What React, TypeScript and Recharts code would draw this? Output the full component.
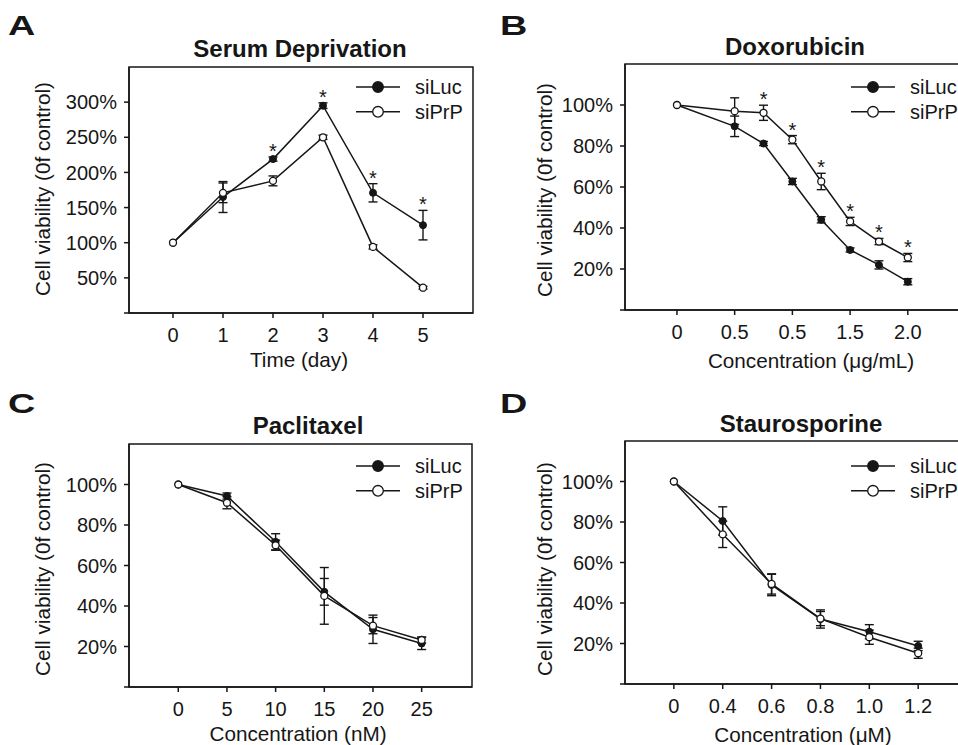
import React from 'react';
import { ComposedChart, Line, Scatter, XAxis, YAxis, ErrorBar, ReferenceArea, Legend } from 'recharts';

const FONT = '"Liberation Sans", Arial, Helvetica, sans-serif';
const INK = '#161616';

// ---------- Panel A: Serum Deprivation ----------
const serumDays = [0, 1, 2, 3, 4, 5];
const serumLuc = [100, 165, 219, 295, 171, 125];
const serumLucErr = [0, 22, 3, 4, 13, 21];
const serumPrp = [100, 171, 188, 250, 94, 36];
const serumPrpErr = [0, 14, 7, 3, 3, 2];
const serumStarsLuc = [false, false, true, true, true, true];
const serumYTicks = [0, 50, 100, 150, 200, 250, 300];
const serumXTicks = [0, 1, 2, 3, 4, 5];
const serumXLabels = ['0', '1', '2', '3', '4', '5'];

// ---------- Panel B: Doxorubicin ----------
const doxoConc = [0, 0.5, 0.75, 1.0, 1.25, 1.5, 1.75, 2.0];
const doxoLuc = [100, 89.6, 81.2, 62.7, 44, 29.3, 22, 13.8];
const doxoLucErr = [0, 5, 1, 1.5, 1.5, 1, 2, 1.5];
const doxoPrp = [100, 97, 96.2, 83.1, 62.7, 43.2, 33.4, 25.6];
const doxoPrpErr = [0, 6.5, 3.7, 2, 4, 2, 1.5, 2];
const doxoStarsPrp = [false, false, true, true, true, true, true, true];
const doxoXTicks = [0, 0.5, 1, 1.5, 2];
const doxoXLabels = ['0', '0.5', '0.5', '1.5', '2.0'];

// ---------- Panel C: Paclitaxel ----------
const pacliConc = [0, 5, 10, 15, 20, 25];
const pacliLuc = [100, 94.3, 71.7, 47, 28.5, 21.5];
const pacliLucErr = [0, 1.5, 4, 6.6, 7, 3];
const pacliPrp = [100, 91, 70, 45, 30.3, 23.2];
const pacliPrpErr = [0, 3, 2.5, 14, 4, 1.5];
const pacliXTicks = [0, 5, 10, 15, 20, 25];
const pacliXLabels = ['0', '5', '10', '15', '20', '25'];

// ---------- Panel D: Staurosporine (evenly spaced categories) ----------
const stauroPos = [0, 1, 2, 3, 4, 5];
const stauroConcLabels = ['0', '0.4', '0.6', '0.8', '1.0', '1.2'];
const stauroLuc = [100, 80.5, 48.9, 32.1, 25.8, 18.8];
const stauroLucErr = [0, 7, 5.3, 4.5, 3.5, 2.3];
const stauroPrp = [100, 73.9, 49.4, 32.3, 23.1, 15.2];
const stauroPrpErr = [0, 6.5, 5, 3.5, 3.5, 2.5];

const pctTicks = [0, 20, 40, 60, 80, 100];

function buildRows(
  xs: number[],
  luc: number[],
  lucErr: number[],
  prp: number[],
  prpErr: number[],
  stars?: boolean[],
  starOn?: 'luc' | 'prp'
) {
  return xs.map((x, i) => ({
    x,
    luc: luc[i],
    lucErr: lucErr[i],
    prp: prp[i],
    prpErr: prpErr[i],
    starY:
      stars && stars[i]
        ? starOn === 'luc'
          ? luc[i] + lucErr[i]
          : prp[i] + prpErr[i]
        : null,
  }));
}

const StarShape = (props: any) => {
  const { cx, cy, payload } = props;
  if (!payload || payload.starY == null || cx == null || cy == null) return <g />;
  return (
    <text x={cx} y={cy + 1} textAnchor="middle" fontSize={20} fontFamily={FONT} fill={INK}>
      *
    </text>
  );
};

const LegendContent = (props: any) => {
  const names = ['siLuc', 'siPrP'];
  const payload = (props.payload || []).filter((p: any) => names.includes(p.value));
  return (
    <svg width={150} height={60} style={{ overflow: 'visible', display: 'block' }}>
      {payload.map((p: any, i: number) => {
        const y = 17 + i * 24.8;
        const filled = p.value === 'siLuc';
        return (
          <g key={p.value}>
            <line x1={6} x2={50} y1={y} y2={y} stroke={INK} strokeWidth={1.5} />
            <circle cx={28} cy={y} r={5.3} fill={filled ? INK : '#fff'} stroke={INK} strokeWidth={1.3} />
            <text x={65} y={y} dy="0.355em" fontSize={20} fontFamily={FONT} fill={INK}>
              {p.value}
            </text>
          </g>
        );
      })}
    </svg>
  );
};

type PanelCfg = {
  left: number;
  top: number;
  width: number;
  height: number;
  margin: { top: number; right: number; bottom: number; left: number };
  rows: any[];
  xDomain: [number, number];
  xTicks: number[];
  xLabels: string[];
  yDomain: [number, number];
  yTicks: number[];
  hasStars: boolean;
  legendLeft: number;
  legendTop: number;
};

const axisStroke = { stroke: INK, strokeWidth: 1.5 };
const tickStyle = { fontSize: 20, fill: INK, fontFamily: FONT };

function Panel({ cfg }: { cfg: PanelCfg }) {
  const xFormatter = (v: any) => {
    const i = cfg.xTicks.indexOf(v);
    return i >= 0 ? cfg.xLabels[i] : String(v);
  };
  return (
    <div style={{ position: 'absolute', left: cfg.left, top: cfg.top }}>
      <ComposedChart width={cfg.width} height={cfg.height} data={cfg.rows} margin={cfg.margin}>
        <ReferenceArea
          x1={cfg.xDomain[0]}
          x2={cfg.xDomain[1]}
          y1={cfg.yDomain[0]}
          y2={cfg.yDomain[1]}
          fill="none"
          stroke={INK}
          strokeWidth={1.5}
          ifOverflow="visible"
        />
        <XAxis
          dataKey="x"
          type="number"
          domain={cfg.xDomain}
          ticks={cfg.xTicks}
          tickFormatter={xFormatter}
          interval={0}
          height={40}
          tickSize={5}
          tickMargin={10}
          axisLine={axisStroke}
          tickLine={axisStroke}
          tick={tickStyle}
          allowDataOverflow
        />
        <YAxis
          type="number"
          domain={cfg.yDomain}
          ticks={cfg.yTicks}
          tickFormatter={(v: number) => (v === 0 ? '' : `${v}%`)}
          interval={0}
          width={60}
          tickSize={5}
          tickMargin={7}
          axisLine={axisStroke}
          tickLine={axisStroke}
          tick={tickStyle}
          allowDataOverflow
        />
        <Line
          dataKey="luc"
          name="siLuc"
          stroke={INK}
          strokeWidth={1.5}
          dot={{ r: 3.5, fill: INK, stroke: INK, strokeWidth: 1 }}
          activeDot={false}
          isAnimationActive={false}
        >
          <ErrorBar dataKey="lucErr" width={4.5} stroke={INK} strokeWidth={1.4} direction="y" />
        </Line>
        <Line
          dataKey="prp"
          name="siPrP"
          stroke={INK}
          strokeWidth={1.5}
          dot={{ r: 3.5, fill: '#fff', stroke: INK, strokeWidth: 1.3 }}
          activeDot={false}
          isAnimationActive={false}
        >
          <ErrorBar dataKey="prpErr" width={4.5} stroke={INK} strokeWidth={1.4} direction="y" />
        </Line>
        {cfg.hasStars && (
          <Scatter dataKey="starY" shape={StarShape} legendType="none" isAnimationActive={false} />
        )}
        <Legend
          content={LegendContent}
          layout="horizontal"
          verticalAlign="middle"
          align="center"
          wrapperStyle={{ left: cfg.legendLeft, top: cfg.legendTop, width: 150, height: 60 }}
        />
      </ComposedChart>
    </div>
  );
}

const panels: PanelCfg[] = [
  {
    left: 0,
    top: 0,
    width: 480,
    height: 380,
    margin: { top: 67, right: 7, bottom: 27, left: 69 },
    rows: buildRows(serumDays, serumLuc, serumLucErr, serumPrp, serumPrpErr, serumStarsLuc, 'luc'),
    xDomain: [-0.88, 6.0],
    xTicks: serumXTicks,
    xLabels: serumXLabels,
    yDomain: [0, 350],
    yTicks: serumYTicks,
    hasStars: true,
    legendLeft: 350,
    legendTop: 70.3,
  },
  {
    left: 478,
    top: 0,
    width: 500,
    height: 380,
    margin: { top: 64, right: 9, bottom: 30, left: 87 },
    rows: buildRows(doxoConc, doxoLuc, doxoLucErr, doxoPrp, doxoPrpErr, doxoStarsPrp, 'prp'),
    xDomain: [-0.45, 2.53],
    xTicks: doxoXTicks,
    xLabels: doxoXLabels,
    yDomain: [0, 120],
    yTicks: pctTicks,
    hasStars: true,
    legendLeft: 367.3,
    legendTop: 70.3,
  },
  {
    left: 0,
    top: 380,
    width: 480,
    height: 365,
    margin: { top: 64, right: 8, bottom: 18, left: 69 },
    rows: buildRows(pacliConc, pacliLuc, pacliLucErr, pacliPrp, pacliPrpErr),
    xDomain: [-5.06, 30.17],
    xTicks: pacliXTicks,
    xLabels: pacliXLabels,
    yDomain: [0, 120],
    yTicks: pctTicks,
    hasStars: false,
    legendLeft: 350,
    legendTop: 69,
  },
  {
    left: 478,
    top: 380,
    width: 500,
    height: 365,
    margin: { top: 61, right: 9, bottom: 21, left: 87 },
    rows: buildRows(stauroPos, stauroLuc, stauroLucErr, stauroPrp, stauroPrpErr),
    xDomain: [-1.0, 6.04],
    xTicks: stauroPos,
    xLabels: stauroConcLabels,
    yDomain: [0, 120],
    yTicks: pctTicks,
    hasStars: false,
    legendLeft: 367.3,
    legendTop: 69,
  },
];

const letters = [
  { t: 'A', x: 8, y: 35 },
  { t: 'B', x: 500, y: 35 },
  { t: 'C', x: 8, y: 413 },
  { t: 'D', x: 500, y: 413 },
];
const titles = [
  { t: 'Serum Deprivation', x: 300, y: 57 },
  { t: 'Doxorubicin', x: 795, y: 55 },
  { t: 'Paclitaxel', x: 308, y: 434 },
  { t: 'Staurosporine', x: 801, y: 432 },
];
const yLabelText = 'Cell viability (0f control)';
const yLabels = [
  { x: 49.5, y: 189 },
  { x: 551.5, y: 190 },
  { x: 49.5, y: 569 },
  { x: 551.5, y: 569 },
];
const xLabels = [
  { t: 'Time (day)', x: 299, y: 367 },
  { t: 'Concentration (μg/mL)', x: 811, y: 368 },
  { t: 'Concentration (nM)', x: 298, y: 741 },
  { t: 'Concentration (μM)', x: 803, y: 741.5 },
];

export default function App() {
  return (
    <div
      style={{
        position: 'absolute',
        left: 0,
        top: 0,
        width: 958,
        height: 745,
        overflow: 'hidden',
        background: '#fff',
        fontFamily: FONT,
      }}
    >
      {panels.map((p, i) => (
        <Panel key={i} cfg={p} />
      ))}
      <svg
        width={958}
        height={745}
        style={{ position: 'absolute', left: 0, top: 0, pointerEvents: 'none' }}
      >
        {letters.map((l) => (
          <text
            key={l.t}
            transform={`translate(${l.x},${l.y}) scale(1.35,1)`}
            fontSize={28}
            fontWeight="bold"
            fontFamily={FONT}
            fill={INK}
          >
            {l.t}
          </text>
        ))}
        {titles.map((t) => (
          <text
            key={t.t}
            x={t.x}
            y={t.y}
            textAnchor="middle"
            fontSize={24}
            fontWeight="bold"
            fontFamily={FONT}
            fill={INK}
          >
            {t.t}
          </text>
        ))}
        {yLabels.map((l, i) => (
          <text
            key={i}
            transform={`translate(${l.x},${l.y}) rotate(-90)`}
            textAnchor="middle"
            fontSize={20.7}
            fontFamily={FONT}
            fill={INK}
          >
            {yLabelText}
          </text>
        ))}
        {xLabels.map((l) => (
          <text key={l.t} x={l.x} y={l.y} textAnchor="middle" fontSize={20.7} fontFamily={FONT} fill={INK}>
            {l.t}
          </text>
        ))}
      </svg>
    </div>
  );
}
